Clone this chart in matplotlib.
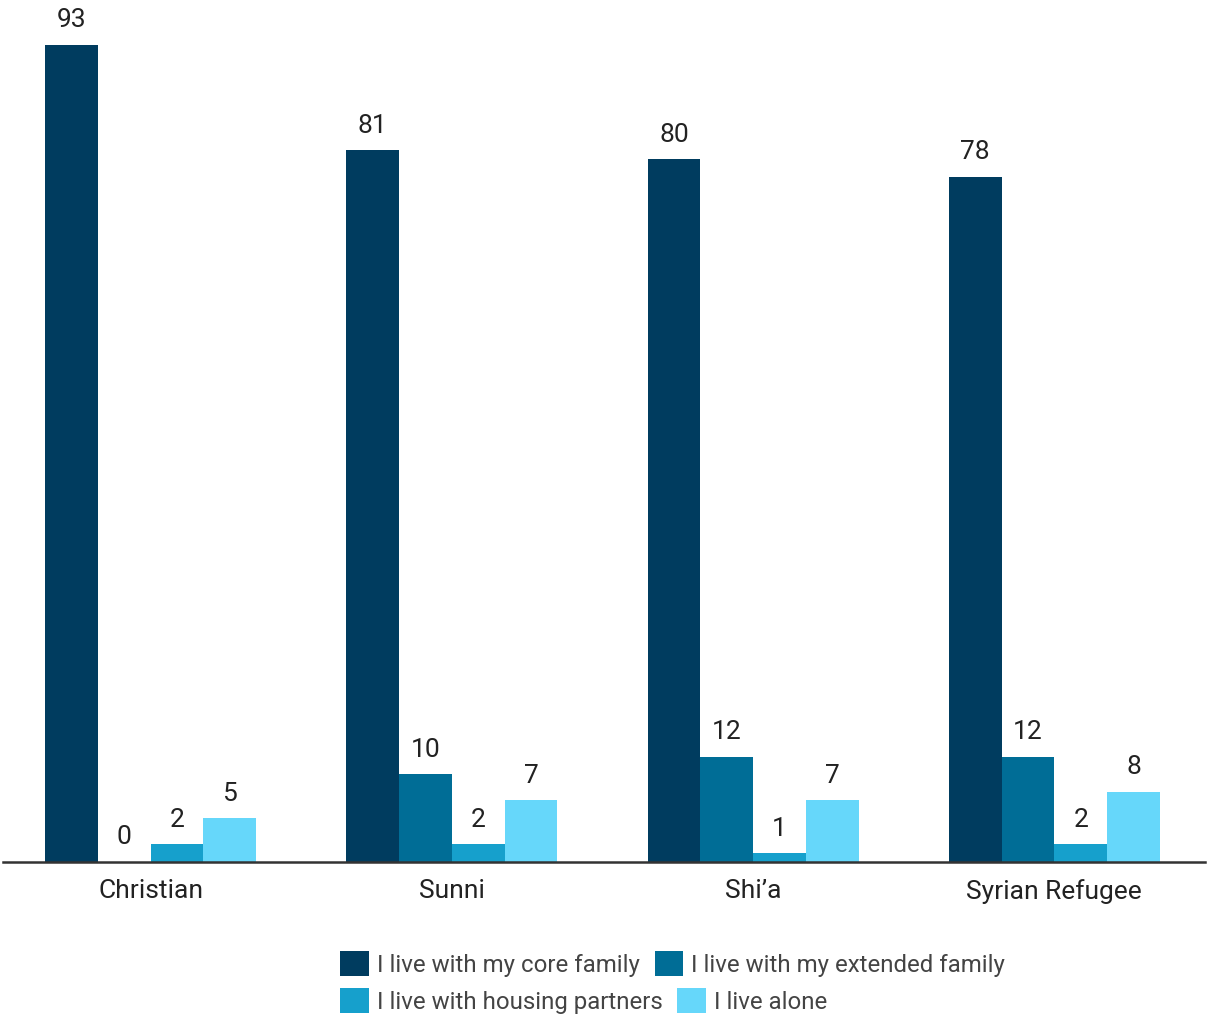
import matplotlib
matplotlib.use("Agg")
import matplotlib.pyplot as plt
import numpy as np

plt.rcParams['font.family'] = ['Roboto', 'DejaVu Sans']

categories = ["Christian", "Sunni", "Shi’a", "Syrian Refugee"]
series_names = ["I live with my core family", "I live with my extended family",
                "I live with housing partners", "I live alone"]
core_family = [93, 81, 80, 78]
extended_family = [0, 10, 12, 12]
housing_partners = [2, 2, 1, 2]
live_alone = [5, 7, 7, 8]
colors = ["#003c5f", "#006d96", "#16a0cc", "#66d7fa"]

series = [core_family, extended_family, housing_partners, live_alone]

fig = plt.figure(figsize=(12.07, 10.17), dpi=100)
ax = fig.add_axes([3/1207, 155/1017, 1202/1207, 862/1017])

x = np.arange(len(categories))
w = 0.175
handles = []
for i, (vals, c, name) in enumerate(zip(series, colors, series_names)):
    pos = x + (i - 1.5) * w
    bars = ax.bar(pos, vals, width=w, color=c, label=name, zorder=2)
    handles.append(bars)
    for p, v in zip(pos, vals):
        ax.annotate(str(v), (p, v), xytext=(0, 9), textcoords="offset points",
                    ha="center", va="bottom", fontsize=19, color="#222222")

ax.set_xlim(-0.49, 3.5)
ax.set_ylim(0, 98.1)
ax.set_xticks(x)
ax.set_xticklabels(categories, fontsize=19, color="#222222")
ax.tick_params(axis="x", length=0, pad=12.5)
ax.set_yticks([])
for s in ["top", "right", "left"]:
    ax.spines[s].set_visible(False)
ax.spines["bottom"].set_color("#333333")
ax.spines["bottom"].set_linewidth(1.8)

# flow-style legend: two rows, each left-aligned at the same x
legend_kw = dict(ncol=2, loc="center left", frameon=False, fontsize=17.3,
                 labelcolor="#444444", handlelength=1.2, handleheight=1.2,
                 handletextpad=0.33, columnspacing=0.62,
                 borderaxespad=0, borderpad=0)
leg1 = fig.legend(handles=[handles[0], handles[1]], labels=[series_names[0], series_names[1]],
                  bbox_to_anchor=(340/1207, 1 - 964/1017), **legend_kw)
leg2 = fig.legend(handles=[handles[2], handles[3]], labels=[series_names[2], series_names[3]],
                  bbox_to_anchor=(340/1207, 1 - 1001/1017), **legend_kw)

fig.savefig("out.png", dpi=100)
